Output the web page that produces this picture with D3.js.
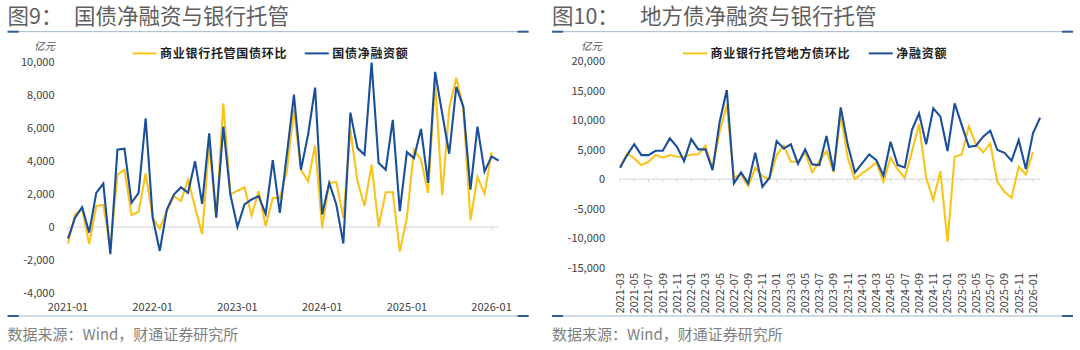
<!DOCTYPE html>
<html><head><meta charset="utf-8">
<script src="https://cdn.jsdelivr.net/npm/d3@7"></script>
<style>
html,body{margin:0;padding:0;background:#fff;}
svg{display:block;}
text{font-family:"Noto Sans CJK SC","Noto Sans",sans-serif;}
</style></head>
<body>
<svg id="c" width="1080" height="350"></svg>
<script>
// ---------- Data ----------
// Figure 9: monthly, 2021-01 .. 2026-02
const leftStart = [2021, 1];
const leftNetFinancing = [-700,560,1200,-340,2070,2630,-1650,4680,4740,1470,
  2070,6590,560,-1450,1060,1970,2410,2070,3980,1400,
  5680,560,6080,1970,0,1370,1670,1870,800,4050,
  850,4400,8030,3470,5580,8450,760,2670,1370,-1000,
  6930,4780,4380,9960,3880,3470,6490,960,4540,4180,
  5940,2670,9400,6890,4440,8490,7290,2270,6080,3370,
  4280,4020];
const leftCustody = [-1000,760,1100,-1040,1270,1330,-1300,3170,3470,720,
  920,3250,560,-100,960,1870,1570,2870,1200,-440,
  5000,560,7490,1970,2200,2410,700,2170,60,1770,
  1730,3370,7150,3470,2770,4940,-40,2670,2730,560,
  5880,2770,1270,3780,20,2110,2110,-1490,560,4680,
  4080,2070,8800,1930,7190,9040,7190,420,3030,2010,
  4540];
const leftYTicks = [-4000,-2000,0,2000,4000,6000,8000,10000];
const leftXTickLabels = ["2021-01","2022-01","2023-01","2024-01","2025-01","2026-01"];

// Figure 10: monthly, 2021-03 .. 2026-02
const rightStart = [2021, 3];
const rightNetFinancing = [1920,4070,5930,4070,4070,4800,4800,6900,5480,3050,
  6780,5030,5030,1530,9720,15090,-730,1130,-730,4460,-1300,230,
  6440,5200,5880,2600,5030,2490,2370,7290,1360,12150,5760,1130,
  2660,4180,3220,570,6330,2370,1980,8310,11130,5880,11980,10570,
  4750,12830,9150,5480,5650,7180,8190,4920,4460,3110,6610,1700,
  7740,10400];
const rightCustody = [2000,4300,3500,2370,2940,4070,3620,4070,3790,3790,
  4180,4180,5650,1800,8020,12540,230,790,-1190,1920,500,0,
  4070,5650,2940,2940,4460,1130,3050,4750,1240,10850,3500,0,
  960,1800,2830,-450,3620,1640,230,4630,9320,230,-3560,1360,
  -10620,3790,4180,8980,5880,4520,6050,-450,-2150,-3160,2090,790,
  4630];
const rightYTicks = [-15000,-10000,-5000,0,5000,10000,15000,20000];

function months(start, n){
  const out=[]; let y=start[0], m=start[1];
  for(let i=0;i<n;i++){ out.push(y+"-"+String(m).padStart(2,"0")); m++; if(m>12){m=1;y++;} }
  return out;
}
const leftMonths = months(leftStart, leftNetFinancing.length);
const rightMonths = months(rightStart, rightNetFinancing.length);
const rightXTickLabels = rightMonths.filter((d,i)=>i%2===0 && i<rightCustody.length);

const BLUE="#1b4f9b", YELLOW="#f9c41a";
const svg = d3.select("#c");
const fmt = v => d3.format(",")(v).replace("\u2212","-");

function header(x0, x1, label, titleText, titleX){
  svg.append("text").attr("x",x0).attr("y",24).attr("font-size",21.5).attr("fill","#5f5f5f").text(label);
  svg.append("text").attr("x",titleX).attr("y",24).attr("font-size",21.5).attr("fill","#5f5f5f").text(titleText);
  sep(x0, x1, 31.7);
  sep(x0, x1, 316);
  svg.append("text").attr("x",x0).attr("y",340).attr("font-size",15).attr("fill","#7f7f7f").text("数据来源：Wind，财通证券研究所");
}
function sep(x0,x1,y){
  svg.append("line").attr("x1",x0).attr("x2",x1).attr("y1",y).attr("y2",y).attr("stroke","#9fb4cb").attr("stroke-width",1);
  svg.append("line").attr("x1",x0).attr("x2",x0+11).attr("y1",y).attr("y2",y).attr("stroke","#2d5f94").attr("stroke-width",2);
  svg.append("line").attr("x1",x1-11).attr("x2",x1).attr("y1",y).attr("y2",y).attr("stroke","#2d5f94").attr("stroke-width",2);
}
function legend(items, y){
  items.forEach(it=>{
    svg.append("line").attr("x1",it.x).attr("x2",it.x+24).attr("y1",y).attr("y2",y).attr("stroke",it.color).attr("stroke-width",2);
    svg.append("text").attr("x",it.x+27.5).attr("y",y+4.2).attr("font-size",12).attr("font-weight",700)
      .attr("letter-spacing",0.7).attr("fill","#222").text(it.label);
  });
}
function yAxis(y, ticks, xRight){
  const g = svg.append("g").attr("transform",`translate(${xRight},0)`)
    .call(d3.axisLeft(y).tickValues(ticks).tickSize(0).tickPadding(0).tickFormat(fmt));
  g.select(".domain").remove();
  g.selectAll("text").attr("font-size",11).attr("fill","#404040").attr("font-family","'Noto Sans CJK SC',sans-serif");
}
function drawLine(x, y, data, color){
  svg.append("path").datum(data).attr("fill","none").attr("stroke",color).attr("stroke-width",2.1)
    .attr("stroke-linejoin","miter").attr("d", d3.line().x((d,i)=>x(i)).y(d=>y(d)));
}

// ---------- Left chart ----------
header(7.6, 528.6, "图9：", "国债净融资与银行托管", 74);
{
  const x = d3.scaleLinear().domain([0, leftNetFinancing.length-1]).range([68, 68+61*7.06]);
  const y = d3.scaleLinear().domain([-4000,10000]).range([293,62]);
  svg.append("text").attr("x",34).attr("y",49.5).attr("font-size",10.5).attr("font-style","italic").attr("fill","#595959").text("亿元");
  legend([{x:132.6,color:YELLOW,label:"商业银行托管国债环比"},{x:304.8,color:BLUE,label:"国债净融资额"}], 53.4);
  yAxis(y, leftYTicks, 54.5);
  svg.append("line").attr("x1",x(0)).attr("x2",x(leftNetFinancing.length-1)).attr("y1",y(0)).attr("y2",y(0)).attr("stroke","#d4d4d4").attr("stroke-width",1);
  leftXTickLabels.forEach(lbl=>{
    const i = leftMonths.indexOf(lbl);
    svg.append("line").attr("x1",x(i)).attr("x2",x(i)).attr("y1",y(0)).attr("y2",y(0)+3).attr("stroke","#d4d4d4");
    svg.append("text").attr("x",x(i)).attr("y",311).attr("text-anchor","middle").attr("font-size",11).attr("fill","#404040").text(lbl);
  });
  drawLine(x, y, leftCustody, YELLOW);
  drawLine(x, y, leftNetFinancing, BLUE);
}

// ---------- Right chart ----------
header(552, 1073, "图10：", "地方债净融资与银行托管", 640);
{
  const x = d3.scaleLinear().domain([0, rightNetFinancing.length-1]).range([620, 620+59*7.12]);
  const y = d3.scaleLinear().domain([-15000,20000]).range([267.7,61]);
  svg.append("text").attr("x",581).attr("y",49.5).attr("font-size",10.5).attr("font-style","italic").attr("fill","#595959").text("亿元");
  legend([{x:683,color:YELLOW,label:"商业银行托管地方债环比"},{x:868.8,color:BLUE,label:"净融资额"}], 53.4);
  yAxis(y, rightYTicks, 605);
  svg.append("line").attr("x1",x(0)).attr("x2",x(rightNetFinancing.length-1)).attr("y1",y(0)).attr("y2",y(0)).attr("stroke","#d4d4d4").attr("stroke-width",1);
  rightXTickLabels.forEach(lbl=>{
    const i = rightMonths.indexOf(lbl);
    svg.append("line").attr("x1",x(i)).attr("x2",x(i)).attr("y1",y(0)).attr("y2",y(0)+3).attr("stroke","#d4d4d4");
    svg.append("text").attr("transform",`translate(${x(i)},273) rotate(-90)`).attr("text-anchor","end")
      .attr("dy","0.35em").attr("font-size",11).attr("fill","#404040").text(lbl);
  });
  drawLine(x, y, rightCustody, YELLOW);
  drawLine(x, y, rightNetFinancing, BLUE);
}
</script>
</body></html>
